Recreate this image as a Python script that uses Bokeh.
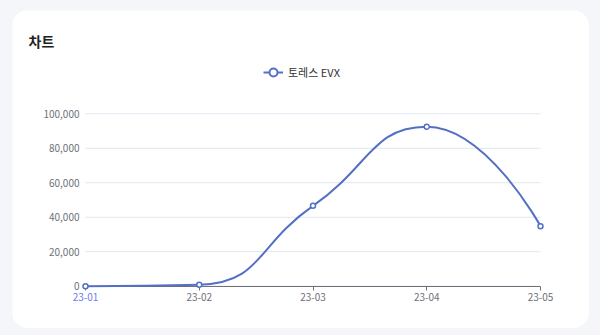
from math import hypot
from bokeh.plotting import figure
from bokeh.models import (Range1d, FixedTicker, NumeralTickFormatter, Label,
                          Legend, LegendItem, ColumnDataSource)
from bokeh.layouts import column
from bokeh.embed import file_html
from bokeh.resources import INLINE

# ---- data ----
months = ["23-01", "23-02", "23-03", "23-04", "23-05"]
sales = [0, 800, 46600, 92500, 34800]
y_ticks = [0, 20000, 40000, 60000, 80000, 100000]
series_name = "토레스 EVX"
title_text = "차트"

FONT = "Noto Sans CJK KR"
LINE_COLOR = "#5470c6"
AXIS_COLOR = "#6e7079"
GRID_COLOR = "#e0e6f1"
PAGE_BG = "#f4f6f9"

# card (figure) geometry in pixels
CARD_X, CARD_Y = 12, 10
W, H = 577, 318
# plot area inside the card (pixels, card coordinates)
X0, X1 = 73.0, 528.0          # first / last category
Y0, YT = 275.7, 103.3         # value 0 / value 100,000
YMAX = 100000

xs = list(range(len(months)))
kx = (X1 - X0) / (len(months) - 1)
ky = (Y0 - YT) / YMAX


def dx(px):
    return (px - X0) / kx


def dy(py):
    return (Y0 - py) / ky


p = figure(width=W, height=H, output_backend="svg", toolbar_location=None,
           x_range=Range1d(dx(0), dx(W)), y_range=Range1d(dy(H), dy(0)),
           min_border_left=0, min_border_right=0, min_border_top=0,
           min_border_bottom=0, background_fill_color="white",
           border_fill_color="white", outline_line_color=None)
p.margin = (CARD_Y, 600 - CARD_X - W, 335 - CARD_Y - H, CARD_X)
p.styles = {"border-radius": "16px", "overflow": "hidden"}


# ---- echarts-like smooth curve (bezier segments, computed in pixel space) ----
def smooth_segments(xv, yv, sx, sy, smooth=0.5):
    pts = [(a * sx, b * sy) for a, b in zip(xv, yv)]
    n = len(pts)
    segs = []
    cp0 = pts[0]
    for i in range(1, n):
        x, y = pts[i]
        px, py = pts[i - 1]
        if i == n - 1:
            cp1 = (x, y)
            nxt = None
        else:
            nx, ny = pts[i + 1]
            vx, vy = nx - px, ny - py
            l0 = hypot(x - px, y - py)
            l1 = hypot(nx - x, ny - y)
            r = l1 / (l0 + l1)
            n0x = x + vx * smooth * r
            n0y = y + vy * smooth * r
            n0x = min(n0x, max(nx, x)); n0y = min(n0y, max(ny, y))
            n0x = max(n0x, min(nx, x)); n0y = max(n0y, min(ny, y))
            vx, vy = n0x - x, n0y - y
            c1x = x - vx * l0 / l1
            c1y = y - vy * l0 / l1
            c1x = min(c1x, max(px, x)); c1y = min(c1y, max(py, y))
            c1x = max(c1x, min(px, x)); c1y = max(c1y, min(py, y))
            vx, vy = x - c1x, y - c1y
            n0x = x + vx * l1 / l0
            n0y = y + vy * l1 / l0
            cp1 = (c1x, c1y)
            nxt = (n0x, n0y)
        segs.append((px / sx, py / sy, cp0[0] / sx, cp0[1] / sy,
                     cp1[0] / sx, cp1[1] / sy, x / sx, y / sy))
        cp0 = nxt
    return segs


segs = smooth_segments(xs, sales, kx, ky)
bsrc = ColumnDataSource(dict(
    x0=[s[0] for s in segs], y0=[s[1] for s in segs],
    cx0=[s[2] for s in segs], cy0=[s[3] for s in segs],
    cx1=[s[4] for s in segs], cy1=[s[5] for s in segs],
    x1=[s[6] for s in segs], y1=[s[7] for s in segs]))
psrc = ColumnDataSource(dict(x=xs, y=sales))

# grid lines (only across the plot area)
p.segment(x0=[xs[0]] * len(y_ticks), x1=[xs[-1]] * len(y_ticks),
          y0=y_ticks, y1=y_ticks, line_color=GRID_COLOR, line_width=1)

r_line = p.bezier(x0="x0", y0="y0", x1="x1", y1="y1", cx0="cx0", cy0="cy0",
                  cx1="cx1", cy1="cy1", source=bsrc, line_color=LINE_COLOR,
                  line_width=2)
r_pts = p.scatter("x", "y", source=psrc, size=5, marker="circle",
                  fill_color="white", line_color=LINE_COLOR, line_width=1.5)
r_line.level = "annotation"
r_pts.level = "annotation"

# legend glyphs: renderers holding a NaN point, so they draw nothing in the plot
nan = float("nan")
lg_line = p.line(x=[nan], y=[nan], line_color=LINE_COLOR, line_width=2)
lg_mark = p.scatter(x=[nan], y=[nan], size=10, marker="circle",
                    fill_color="white", line_color=LINE_COLOR, line_width=2)
legend = Legend(items=[LegendItem(label=series_name, renderers=[lg_line, lg_mark])],
                location=(251, H - 74), orientation="horizontal",
                border_line_color=None, background_fill_alpha=0,
                padding=0, margin=0, glyph_width=20, glyph_height=24,
                label_standoff=5, label_text_font=FONT,
                label_text_font_size="11px", label_text_color="#333333")
p.add_layout(legend)

# axes, fixed inside the frame
p.xaxis.fixed_location = 0
p.xaxis.bounds = (xs[0], xs[-1])
p.xaxis.ticker = FixedTicker(ticks=xs)
p.xaxis.major_label_overrides = {i: ("" if i == 0 else m) for i, m in enumerate(months)}
p.xaxis.axis_line_color = AXIS_COLOR
p.xaxis.major_tick_line_color = AXIS_COLOR
p.xaxis.major_tick_out = 4
p.xaxis.major_tick_in = 0
p.xaxis.minor_tick_line_color = None
p.xaxis.major_label_standoff = 3
p.xaxis.major_label_text_font = FONT
p.xaxis.major_label_text_font_size = "10px"
p.xaxis.major_label_text_color = AXIS_COLOR

p.yaxis.fixed_location = xs[0]
p.yaxis.bounds = (0, YMAX)
p.yaxis.ticker = FixedTicker(ticks=y_ticks)
p.yaxis.formatter = NumeralTickFormatter(format="0,0")
p.yaxis.axis_line_color = None
p.yaxis.major_tick_line_color = None
p.yaxis.minor_tick_line_color = None
p.yaxis.major_tick_out = 0
p.yaxis.major_tick_in = 0
p.yaxis.major_label_standoff = 6
p.yaxis.major_label_text_font = FONT
p.yaxis.major_label_text_font_size = "10px"
p.yaxis.major_label_text_color = AXIS_COLOR

p.xgrid.visible = False
p.ygrid.visible = False

# highlighted first category label
p.add_layout(Label(x=xs[0], y=dy(296.5 - CARD_Y), text=months[0],
                   text_align="center", text_baseline="middle", text_font=FONT,
                   text_font_size="10px", text_color="#6b7cf0"))

# title
p.add_layout(Label(x=dx(28 - CARD_X), y=dy(40 - CARD_Y), text=title_text,
                   text_align="left", text_baseline="middle", text_font=FONT,
                   text_font_size="14px", text_font_style="bold",
                   text_color="#222222"))

root = column(p, width=600, height=335, styles={"background-color": PAGE_BG})
open("out.html", "w").write(file_html(root, INLINE))
